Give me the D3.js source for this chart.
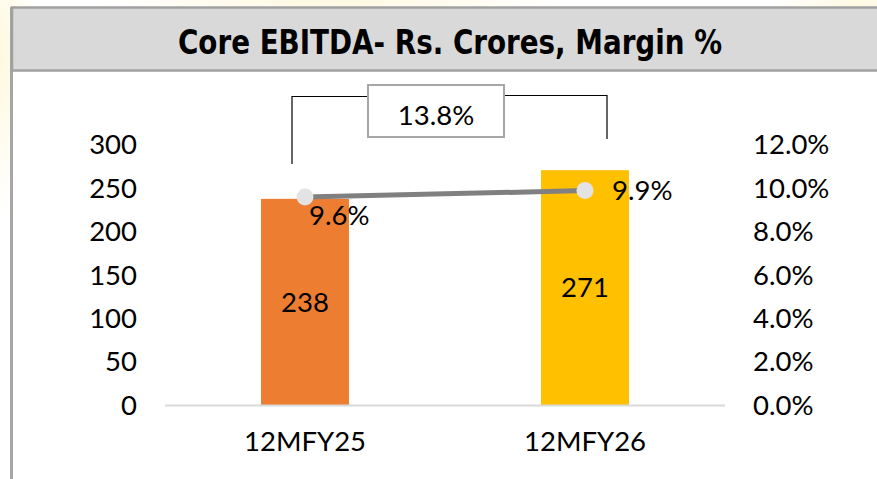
<!DOCTYPE html>
<html>
<head>
<meta charset="utf-8">
<script src="https://cdn.jsdelivr.net/npm/d3@7"></script>
<style>
  body { margin: 0; background: #fff; }
  svg { display: block; }
  text { font-family: Lato, "Open Sans", sans-serif; fill: #000; }
</style>
</head>
<body>
<svg id="chart" width="877" height="479"></svg>
<script>
// data
var categories = ["12MFY25", "12MFY26"];
var ebitda = [238, 271];
var margin = [0.096, 0.099];
var leftTicks = [0, 50, 100, 150, 200, 250, 300];
var rightTicks = [0, 0.02, 0.04, 0.06, 0.08, 0.10, 0.12];
var barColours = ["#ed7d31", "#ffc000"];
var growthLabel = "13.8%";
var title = "Core EBITDA- Rs. Crores, Margin %";

var svg = d3.select("#chart");
var fs = "27.5px";

// faint yellow watermark behind the panel
var defs = svg.append("defs");
var glow = defs.append("radialGradient").attr("id", "glow");
glow.append("stop").attr("offset", "0%").attr("stop-color", "#fff6d2").attr("stop-opacity", 0.7);
glow.append("stop").attr("offset", "100%").attr("stop-color", "#fff6d2").attr("stop-opacity", 0);
[[0, 60, 40, 160], [330, 0, 240, 22], [860, 10, 90, 40]].forEach(function(g) {
    svg.append("ellipse").attr("cx", g[0]).attr("cy", g[1]).attr("rx", g[2]).attr("ry", g[3])
       .attr("fill", "url(#glow)");
});

// panel
svg.append("rect").attr("x", 11).attr("y", 7).attr("width", 870).attr("height", 480)
   .attr("fill", "#fff");
svg.append("line").attr("x1", 11.5).attr("x2", 11.5).attr("y1", 7).attr("y2", 479)
   .attr("stroke", "#a6a6a6").attr("stroke-width", 3);

// title bar
svg.append("rect").attr("x", 12).attr("y", 7.5).attr("width", 870).attr("height", 63)
   .attr("fill", "#d9d9d9").attr("stroke", "#a0a0a0").attr("stroke-width", 2.5);
svg.append("text").attr("x", 450).attr("y", 54)
   .attr("text-anchor", "middle")
   .style("font-family", "'Liberation Sans Narrow', 'DejaVu Sans Condensed', sans-serif")
   .style("font-weight", "bold").style("font-size", "33px")
   .attr("textLength", 544).attr("lengthAdjust", "spacingAndGlyphs")
   .text(title);

var x = d3.scaleBand().domain(categories).range([165, 725])
    .paddingInner(0.686).paddingOuter(0.343);
var yL = d3.scaleLinear().domain([0, 300]).range([405.5, 145]);
var yR = d3.scaleLinear().domain([0, 0.12]).range([405.5, 145]);

// axes (labels only)
var leftAxis = svg.append("g").attr("transform", "translate(137,0)")
    .call(d3.axisLeft(yL).tickValues(leftTicks).tickSize(0).tickPadding(0));
var rightAxis = svg.append("g").attr("transform", "translate(753,0)")
    .call(d3.axisRight(yR).tickValues(rightTicks).tickSize(0).tickPadding(0)
          .tickFormat(d3.format(".1%")));
var bottomAxis = svg.append("g").attr("transform", "translate(0,405.5)")
    .call(d3.axisBottom(x).tickSize(0).tickPadding(26));
[leftAxis, rightAxis, bottomAxis].forEach(function(a) {
    a.select(".domain").remove();
    a.selectAll("text").style("font-size", fs).style("font-family", null);
});

// bars
svg.selectAll(".bar").data(ebitda).enter().append("rect")
   .attr("class", "bar")
   .attr("x", (d, i) => x(categories[i]))
   .attr("width", x.bandwidth())
   .attr("y", d => yL(d))
   .attr("height", d => yL(0) - yL(d))
   .attr("fill", (d, i) => barColours[i]);

svg.append("line").attr("x1", 165).attr("x2", 725).attr("y1", 405.5).attr("y2", 405.5)
   .attr("stroke", "#d9d9d9").attr("stroke-width", 2);

svg.selectAll(".barlabel").data(ebitda).enter().append("text")
   .attr("class", "barlabel")
   .attr("x", (d, i) => x(categories[i]) + x.bandwidth() / 2)
   .attr("y", d => (yL(d) + yL(0)) / 2)
   .attr("dy", "0.35em")
   .attr("text-anchor", "middle")
   .style("font-size", fs)
   .text(d => d);

// margin line
var cx = (d, i) => x(categories[i]) + x.bandwidth() / 2;
svg.append("path").datum(margin)
   .attr("d", d3.line().x(cx).y(d => yR(d)))
   .attr("fill", "none").attr("stroke", "#808080").attr("stroke-width", 5);
svg.selectAll(".dot").data(margin).enter().append("circle")
   .attr("cx", cx).attr("cy", d => yR(d)).attr("r", 8.5)
   .attr("fill", "#e3e3e3");
svg.selectAll(".mlabel").data(margin).enter().append("text")
   .attr("x", (d, i) => cx(d, i) + (i ? 27 : 4))
   .attr("y", (d, i) => yR(d) + (i ? 9.5 : 28))
   .style("font-size", fs)
   .text(d => d3.format(".1%")(d));

// growth bracket
var xa = x(categories[0]) + x.bandwidth() / 2 - 13;
var xb = x(categories[1]) + x.bandwidth() / 2 + 22;
svg.append("path")
   .attr("d", "M" + xa + ",164V96.5H368 M504,95.5H" + xb + "V139")
   .attr("fill", "none").attr("stroke", "#000").attr("stroke-width", 1.2);
svg.append("rect").attr("x", 368).attr("y", 85).attr("width", 136).attr("height", 52)
   .attr("fill", "#fff").attr("stroke", "#a6a6a6").attr("stroke-width", 2);
svg.append("text").attr("x", 436).attr("y", 125).attr("text-anchor", "middle")
   .style("font-size", fs).text(growthLabel);
</script>
</body>
</html>
